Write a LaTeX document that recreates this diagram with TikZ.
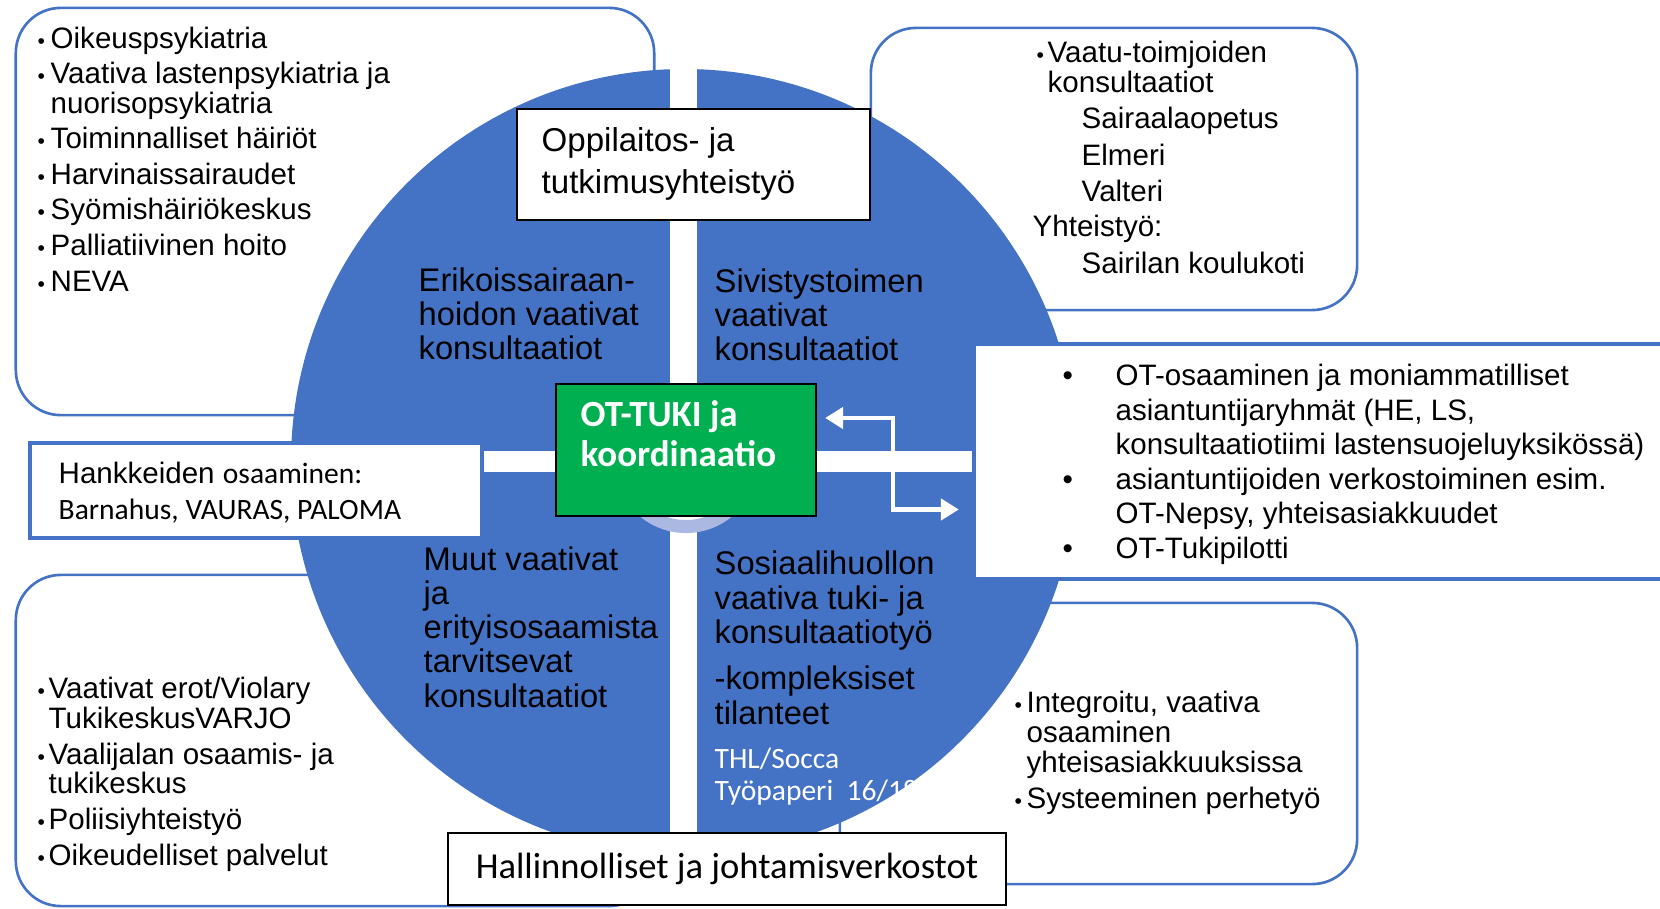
\documentclass[tikz,border=0pt]{standalone}
\usepackage{fontspec}
\setmainfont{Liberation Sans}
\newfontfamily\calib{Carlito}
\usetikzlibrary{positioning,arrows.meta}

\definecolor{quadblue}{HTML}{4472C4}
\definecolor{otgreen}{HTML}{00B050}
\definecolor{ringblue}{HTML}{ABB8E1}
\newcommand{\bul}[1]{\llap{\makebox[#1][l]{\fontsize{6}{6}\selectfont\textbullet}}}
\newcommand{\bigbul}[1]{\llap{\makebox[#1][l]{\textbullet}}}
\lineskiplimit=-20pt

\begin{document}
\begin{tikzpicture}[x=0.01cm, y=-0.01cm]
\tikzset{
    rbox/.style={rectangle, draw=quadblue, line width=0.75pt, rounded corners=0.45cm},
    plain/.style={rectangle, draw=black, line width=0.5pt, fill=white},
    bbox/.style={rectangle, draw=quadblue, line width=1.1pt, fill=white},
    txt/.style={inner sep=0pt, align=left, anchor=base west, font=\fontsize{8.4}{8.5}\selectfont},
    qtxt/.style={inner sep=0pt, align=left, anchor=base west, font=\fontsize{9.3}{9.6}\selectfont},
    wharrow/.style={white, line width=1.3pt, {Triangle[length=0.18cm,width=0.21cm]}-{Triangle[length=0.18cm,width=0.21cm]}}
}
\useasboundingbox (0,0) rectangle (1660,909);

% outer boxes, behind the circle
\node[rbox, minimum width=6.38cm, minimum height=4.07cm] (tl) at (335,211.5) {};
\node[rbox, minimum width=4.86cm, minimum height=2.82cm] (tr) at (1114,169) {};
\node[rbox, minimum width=6.38cm, minimum height=3.31cm] (bl) at (335,740.5) {};
\node[rbox, minimum width=5.17cm, minimum height=2.81cm] (br) at (1098.5,743.5) {};

% circle in four parts
\coordinate (c) at (684,462);
\fill[quadblue] (c) circle[radius=393];
\begin{scope}
\clip (c) circle[radius=393];
\fill[white] (670,0) rectangle (697,909);
\fill[white] (0,451) rectangle (1660,472);
\end{scope}
\node[circle, draw=ringblue, fill=white, line width=0.13cm, minimum size=1.31cm] (hub) at (686,461) {};

% boxes on top
\node[plain, minimum width=3.53cm, minimum height=1.11cm] (opp) at (693.5,164.5) {};
\node[rectangle, draw=black, line width=0.6pt, fill=otgreen, minimum width=2.6cm, minimum height=1.32cm] (ot) at (686,450) {};
\node[bbox, minimum width=4.52cm, minimum height=0.95cm] (hank) at (256,490.5) {};
\node[bbox, minimum width=7.26cm, minimum height=2.35cm] (rbx) at (1337,461.5) {};
\node[plain, minimum width=5.58cm, minimum height=0.72cm, font=\calib\fontsize{10.4}{11}\selectfont] (hall) at (727,869) {Hallinnolliset ja johtamisverkostot};

% texts (anchored at the baseline of their last line)
\node[txt] (tltxt) at (50,291) {\bul{0.13cm}Oikeuspsykiatria\\[1.6pt]
\bul{0.13cm}Vaativa lastenpsykiatria ja\\
nuorisopsykiatria\\[1.6pt]
\bul{0.13cm}Toiminnalliset häiriöt\\[1.6pt]
\bul{0.13cm}Harvinaissairaudet\\[1.6pt]
\bul{0.13cm}Syömishäiriökeskus\\[1.6pt]
\bul{0.13cm}Palliatiivinen hoito\\[1.6pt]
\bul{0.13cm}NEVA};
\node[txt] (trtxt) at (1047,273) {\bul{0.11cm}Vaatu-toimjoiden\\
konsultaatiot\\[1.8pt]
\hspace*{0.34cm}Sairaalaopetus\\[1.8pt]
\hspace*{0.34cm}Elmeri\\[1.8pt]
\hspace*{0.34cm}Valteri\\[1.6pt]
\hspace*{-0.15cm}Yhteistyö:\\[1.8pt]
\hspace*{0.34cm}Sairilan koulukoti};
\node[txt] (bltxt) at (48,865) {\bul{0.11cm}Vaativat erot/Violary\\
TukikeskusVARJO\\[1.6pt]
\bul{0.11cm}Vaalijalan osaamis- ja\\
tukikeskus\\[1.6pt]
\bul{0.11cm}Poliisiyhteistyö\\[1.6pt]
\bul{0.11cm}Oikeudelliset palvelut};
\node[txt] (brtxt) at (1026,808) {\bul{0.12cm}Integroitu, vaativa\\
osaaminen\\
yhteisasiakkuuksissa\\[1.6pt]
\bul{0.12cm}Systeeminen perhetyö};
\node[txt, font=\fontsize{8.4}{9.8}\selectfont] (rtxt) at (1115,558) {\bigbul{0.53cm}OT-osaaminen ja moniammatilliset\\
asiantuntijaryhmät (HE, LS,\\
konsultaatiotiimi lastensuojeluyksikössä)\\
\bigbul{0.53cm}asiantuntijoiden verkostoiminen esim.\\
OT-Nepsy, yhteisasiakkuudet\\
\bigbul{0.53cm}OT-Tukipilotti};

\node[qtxt] (erik) at (418,359) {Erikoissairaan-\\hoidon vaativat\\konsultaatiot};
\node[qtxt] (sivi) at (714,360) {Sivistystoimen\\vaativat\\konsultaatiot};
\node[qtxt, font=\fontsize{9.3}{9.7}\selectfont] (muut) at (423,707) {Muut vaativat\\ja\\erityisosaamista\\tarvitsevat\\konsultaatiot};
\node[qtxt, font=\fontsize{9.3}{9.8}\selectfont] (sos) at (714,724) {Sosiaalihuollon\\vaativa tuki- ja\\konsultaatiotyö\\[3.2pt]-kompleksiset\\tilanteet};
\node[txt, white, font=\calib\fontsize{8.4}{9}\selectfont] (thl) at (714,800) {THL/Socca\\Työpaperi\ \ 16/18};

\node[txt, font=\fontsize{9.4}{11.7}\selectfont] (opptxt) at (541,193) {Oppilaitos- ja\\tutkimusyhteistyö};
\node[txt, white, font=\calib\bfseries\fontsize{10.5}{11.1}\selectfont] (ottxt) at (580,466) {OT-TUKI ja\\koordinaatio};
\node[txt, font=\fontsize{8.4}{10.2}\selectfont] (hanktxt) at (58,519) {Hankkeiden {\calib osaaminen:}\\{\calib Barnahus, VAURAS, PALOMA}};

% connector
\draw[wharrow] ([shift={(8,-32)}]ot.east) -- ++(68,0) |- ([shift={(-13,48)}]rbx.west);
\end{tikzpicture}
\end{document}
